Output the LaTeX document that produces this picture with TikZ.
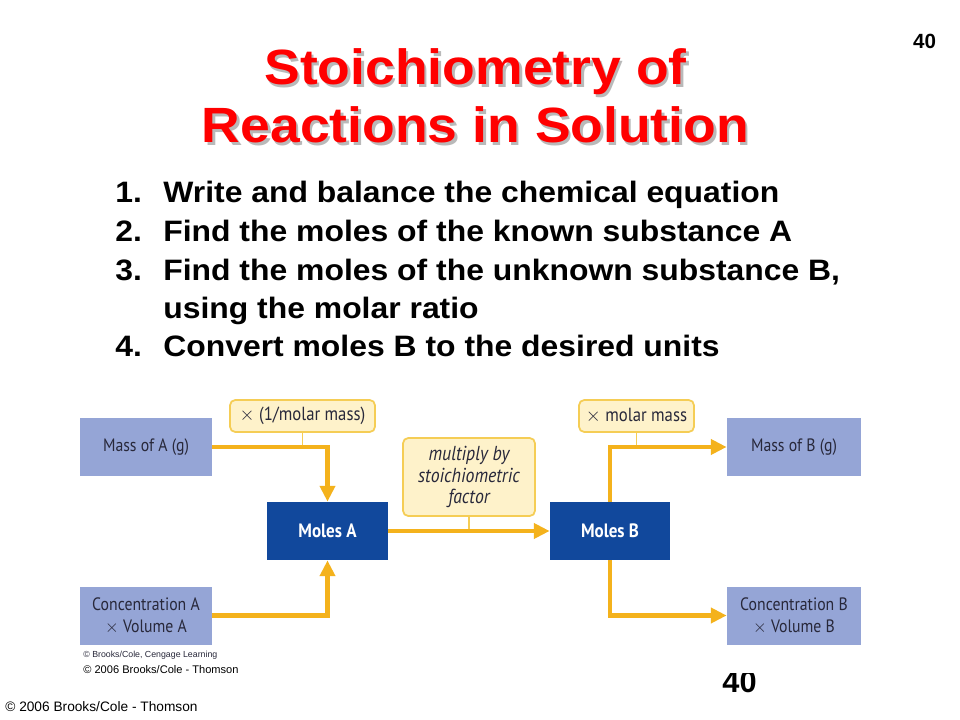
\documentclass[tikz,border=0pt]{standalone}
\usepackage{fontspec}
\setmainfont{Liberation Sans}
\newfontfamily\wideboldfont[FakeStretch=1.08]{Liberation Sans}
\newfontfamily\figfont[FakeStretch=0.88]{PT Sans}
\usetikzlibrary{arrows.meta}
\definecolor{titlered}{RGB}{255,0,0}
\definecolor{shadowgray}{RGB}{185,185,185}
\definecolor{boxlight}{RGB}{149,165,214}
\definecolor{boxdark}{RGB}{17,72,156}
\definecolor{figtext}{RGB}{40,40,58}
\definecolor{flowline}{RGB}{244,178,28}
\definecolor{tagfill}{RGB}{254,242,202}
\definecolor{tagline}{RGB}{245,205,85}

\begin{document}
\begin{tikzpicture}[scale=0.2]
\tikzstyle{every node}+=[inner sep=0pt]
\tikzstyle{lightbox}=[fill=boxlight, text=figtext, minimum width=2.64cm, minimum height=1.16cm, align=center, font=\figfont\fontsize{10.2}{12.5}\selectfont]
\tikzstyle{darkbox}=[fill=boxdark, text=white, minimum width=2.42cm, minimum height=1.16cm, font=\figfont\bfseries\fontsize{11}{12}\selectfont]
\tikzstyle{tagbox}=[fill=tagfill, draw=tagline, line width=1pt, rounded corners=3pt, align=center, text=figtext, font=\figfont\fontsize{10.8}{12.5}\selectfont]
\tikzstyle{flow}=[draw=flowline, line width=2.4pt, -{Triangle[width=8.5pt,length=9pt]}]
\tikzstyle{tick}=[draw=tagline, line width=0.9pt]
\tikzstyle{titletext}=[font=\wideboldfont\bfseries\fontsize{28.2}{30}\selectfont, anchor=base]
\tikzstyle{listtext}=[font=\wideboldfont\bfseries\fontsize{16.8}{18}\selectfont, anchor=base west]
\useasboundingbox [fill=white] (0,0) rectangle (96,-72);
\node [titletext, text=shadowgray] (t1s) at (47.8,-8.75) {Stoichiometry of};
\node [titletext, text=shadowgray] (t2s) at (47.8,-14.55) {Reactions in Solution};
\node [titletext, text=titlered] (t1) at (47.55,-8.5) {Stoichiometry of};
\node [titletext, text=titlered] (t2) at (47.55,-14.3) {Reactions in Solution};
\node [font=\bfseries\fontsize{11.7}{13}\selectfont, anchor=base] (pg) at (92.45,-4.83) {40};
\node [listtext] (n1) at (11.5,-20.3) {1.};
\node [listtext] (s1) at (16.3,-20.3) {Write and balance the chemical equation};
\node [listtext] (n2) at (11.5,-24.2) {2.};
\node [listtext] (s2) at (16.3,-24.2) {Find the moles of the known substance A};
\node [listtext] (n3) at (11.5,-28.05) {3.};
\node [listtext] (s3) at (16.3,-28.05) {Find the moles of the unknown substance B,};
\node [listtext] (s3b) at (16.3,-31.85) {using the molar ratio};
\node [listtext] (n4) at (11.5,-35.6) {4.};
\node [listtext] (s4) at (16.3,-35.6) {Convert moles B to the desired units};
\node [lightbox] (massA) at (14.6,-44.7) {Mass of A (g)};
\node [lightbox] (concA) at (14.6,-61.55) {Concentration A\\$\times$ Volume A};
\node [darkbox] (molesA) at (32.75,-53.1) {Moles A};
\node [darkbox, minimum width=2.4cm] (molesB) at (61,-53.1) {Moles B};
\node [lightbox, minimum width=2.68cm] (massB) at (79.4,-44.7) {Mass of B (g)};
\node [lightbox, minimum width=2.68cm] (concB) at (79.4,-61.55) {Concentration B\\$\times$ Volume B};
\node [tagbox, minimum width=2.9cm, minimum height=0.64cm] (tagA) at (30.25,-41.6) {$\times$ (1/molar mass)};
\node [tagbox, minimum width=2.64cm, minimum height=1.56cm, font=\figfont\itshape\fontsize{11.5}{12.2}\selectfont] (tagF) at (46.9,-47.7) {multiply by\\stoichiometric\\factor};
\node [tagbox, minimum width=2.3cm, minimum height=0.64cm] (tagB) at (63.65,-41.6) {$\times$ molar mass};
\draw [tick] (tagA.south) -- (tagA.south |- massA.east);
\draw [tick] (tagF.south) -- (tagF.south |- molesA.east);
\draw [tick] (tagB.south) -- (tagB.south |- massB.west);
\draw [flow] (massA.east) -| (molesA.north);
\draw [flow] (concA.east) -| (molesA.south);
\draw [flow] (molesA.east) -- (molesB.west);
\draw [flow] (molesB.north) |- (massB.west);
\draw [flow] (molesB.south) |- (concB.west);
\node [font=\fontsize{5}{6}\selectfont, text=figtext, anchor=base west] (cr1) at (8.3,-65.7) {© Brooks/Cole, Cengage Learning};
\node [font=\fontsize{6.3}{7}\selectfont, anchor=base west] (cr2) at (8.3,-67.3) {© 2006 Brooks/Cole - Thomson};
\node [font=\bfseries\fontsize{17.5}{18}\selectfont, anchor=base] (pgb) at (73.95,-69.2) {40};
\fill [white] (71,-65.5) rectangle (77,-67.3);
\node [font=\fontsize{7.8}{8}\selectfont, anchor=base west] (cr3) at (0.5,-71.1) {© 2006 Brooks/Cole - Thomson};
\end{tikzpicture}
\end{document}
